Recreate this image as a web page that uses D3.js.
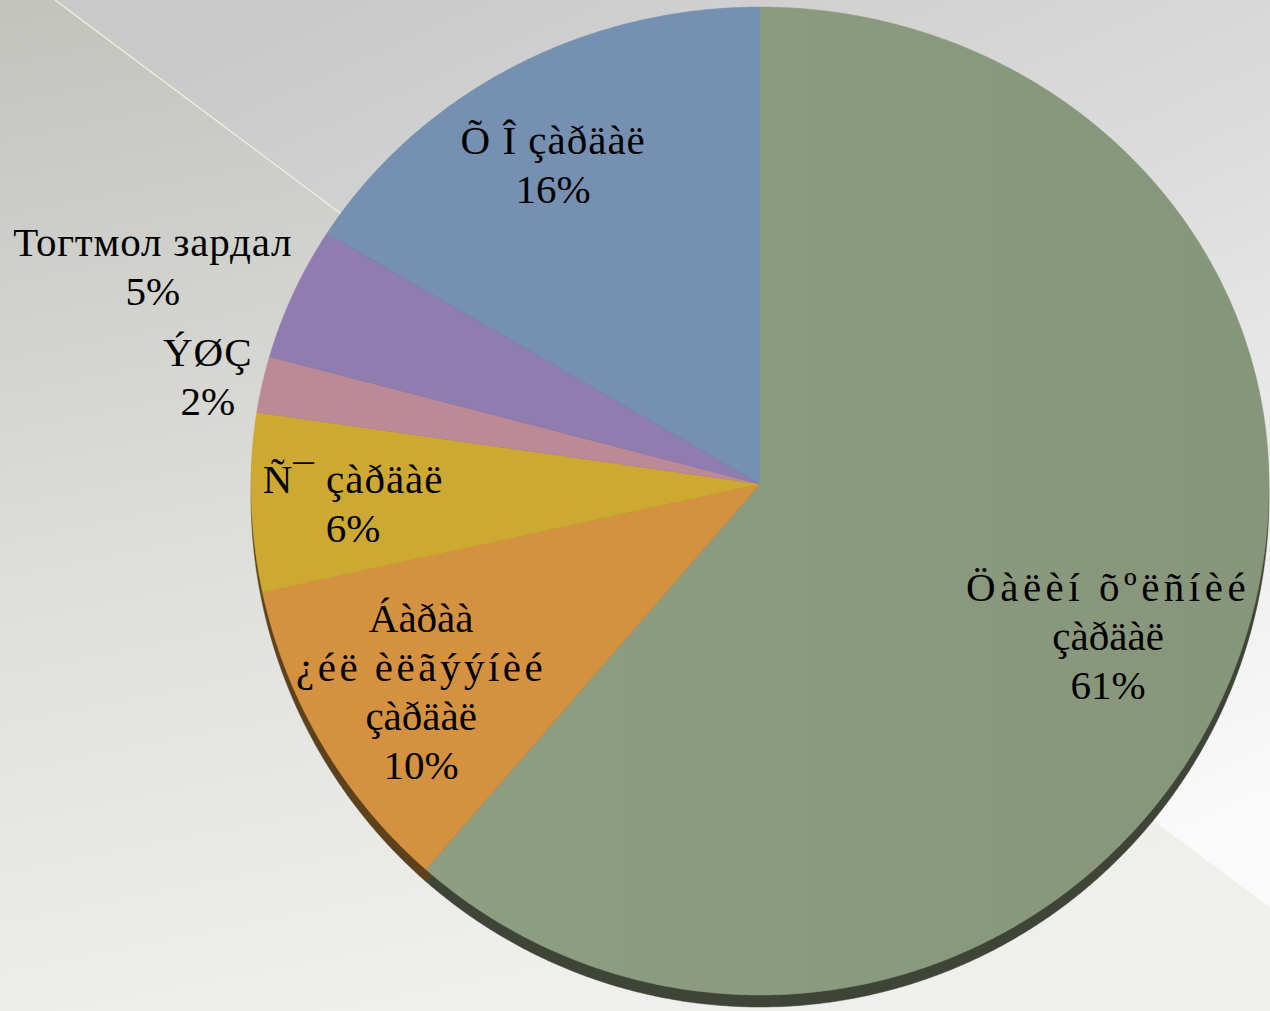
<!DOCTYPE html>
<html>
<head>
<meta charset="utf-8">
<script src="https://cdn.jsdelivr.net/npm/d3@7"></script>
<style>
  html, body { margin: 0; padding: 0; overflow: hidden; }
  svg { display: block; }
</style>
</head>
<body>
<svg></svg>
<script>
const width = 1270;
const height = 1011;

// data, clockwise from 12 o'clock
const categories = [
  ['Öàëèí õºëñíèé', 'çàðäàë'],
  ['Áàðàà', '¿éë èëãýýíèé', 'çàðäàë'],
  ['Ñ¯ çàðäàë'],
  ['ÝØÇ'],
  ['Тогтмол зардал'],
  ['Õ Î çàðäàë']
];
const values = [61.4, 10.2, 5.8, 1.9, 4.5, 16.2];
const colors = ['#8c9a7d', '#d4913f', '#cda933', '#bc8a97', '#8f7db0', '#7590b0'];

// label placement: radius factor, angle shift (deg) from slice middle,
// vertical nudge and letter spacing per text line
const labelLayout = [
  { k: 0.747, da: 3.2, dy: -2, ls: [4.5, 0] },
  { k: 0.792, da: -2.2, dy: -12, ls: [0, 3.5, 0] },
  { k: 0.802, da: -2.8, dy: -13, ls: [1] },
  { k: 1.104, da: -1.4, dy: -10, ls: [1] },
  { k: 1.267, da: -3.9, dy: -14, ls: [0.8] },
  { k: 0.783, da: -2.1, dy: 0, ls: [1] }
];

const cx = 760, cy = 484;
const rx = 509, rTop = 477, rBottom = 511;
const depth = 12;
const lineHeight = 49;

let svg = d3.select('svg')
  .attr('width', width)
  .attr('height', height);

let defs = svg.append('defs');

let gA = defs.append('linearGradient')
  .attr('id', 'bgA')
  .attr('x1', 0).attr('y1', 0).attr('x2', 0.25).attr('y2', 1);
gA.append('stop').attr('offset', '0%').attr('stop-color', '#c2c3bd');
gA.append('stop').attr('offset', '55%').attr('stop-color', '#dededb');
gA.append('stop').attr('offset', '100%').attr('stop-color', '#efefed');

let gB = defs.append('linearGradient')
  .attr('id', 'bgB')
  .attr('x1', 0.2).attr('y1', 0).attr('x2', 0.8).attr('y2', 1);
gB.append('stop').attr('offset', '0%').attr('stop-color', '#c9c9c9');
gB.append('stop').attr('offset', '45%').attr('stop-color', '#dcdcdc');
gB.append('stop').attr('offset', '100%').attr('stop-color', '#fafafa');

let gGreen = defs.append('linearGradient')
  .attr('id', 'greenFace')
  .attr('x1', 0).attr('y1', 0).attr('x2', 1).attr('y2', 0);
gGreen.append('stop').attr('offset', '0%').attr('stop-color', '#8f9d81');
gGreen.append('stop').attr('offset', '100%').attr('stop-color', '#87957a');

// background split along a diagonal
const lineStart = [55, 0];
const slope = 0.748;
const lineEnd = [width, (width - lineStart[0]) * slope];

svg.append('polygon')
  .attr('points', [[0, 0], lineStart, lineEnd, [width, height], [0, height]].join(' '))
  .attr('fill', 'url(#bgA)');

svg.append('polygon')
  .attr('points', [lineStart, [width, 0], lineEnd].join(' '))
  .attr('fill', 'url(#bgB)');

svg.append('line')
  .attr('x1', lineStart[0]).attr('y1', lineStart[1])
  .attr('x2', lineEnd[0]).attr('y2', lineEnd[1])
  .attr('stroke', '#f1f0de')
  .attr('stroke-width', 1.2);

// pie with a slight perspective: upper half flatter than lower half
let pie = d3.pie().sort(null).value(d => d)(values);

function project(a, k, dy) {
  let s = Math.sin(a), c = Math.cos(a);
  return [cx + k * rx * s, cy + dy - k * c * (c > 0 ? rTop : rBottom)];
}

let line = d3.line();

function slicePath(d, dy) {
  let pts = [[cx, cy + dy]];
  let n = Math.max(2, Math.ceil((d.endAngle - d.startAngle) / 0.005));
  for (let i = 0; i <= n; i++) {
    let a = d.startAngle + (d.endAngle - d.startAngle) * i / n;
    pts.push(project(a, 1, dy));
  }
  return line(pts) + 'Z';
}

// side of the disc
svg.append('g')
  .selectAll('path')
  .data(pie)
  .enter()
  .append('path')
    .attr('d', d => slicePath(d, depth))
    .attr('fill', (d, i) => d3.color(colors[i]).darker(2.3))
    .attr('stroke', (d, i) => d3.color(colors[i]).darker(2.3))
    .attr('stroke-width', 0.5);

// top face
svg.append('g')
  .selectAll('path')
  .data(pie)
  .enter()
  .append('path')
    .attr('d', d => slicePath(d, 0))
    .attr('fill', (d, i) => i === 0 ? 'url(#greenFace)' : colors[i])
    .attr('stroke', (d, i) => colors[i])
    .attr('stroke-width', 0.5);

// labels
svg.append('g')
  .selectAll('text')
  .data(pie)
  .enter()
  .append('text')
    .attr('font-family', '"Liberation Serif", "DejaVu Serif", serif')
    .attr('font-size', 41)
    .attr('fill', '#000')
    .attr('text-anchor', 'middle')
    .attr('dominant-baseline', 'central')
    .each(function (d, i) {
      let lay = labelLayout[i];
      let mid = (d.startAngle + d.endAngle) / 2 + lay.da * Math.PI / 180;
      let p = project(mid, lay.k, lay.dy);
      let lines = categories[i].concat([Math.round(values[i]) + '%']);
      let y0 = p[1] - (lines.length - 1) * lineHeight / 2;
      d3.select(this)
        .selectAll('tspan')
        .data(lines)
        .enter()
        .append('tspan')
          .attr('x', p[0])
          .attr('y', (t, j) => y0 + j * lineHeight)
          .attr('letter-spacing', (t, j) => lay.ls[j] || 0)
          .text(t => t);
    });
</script>
</body>
</html>
